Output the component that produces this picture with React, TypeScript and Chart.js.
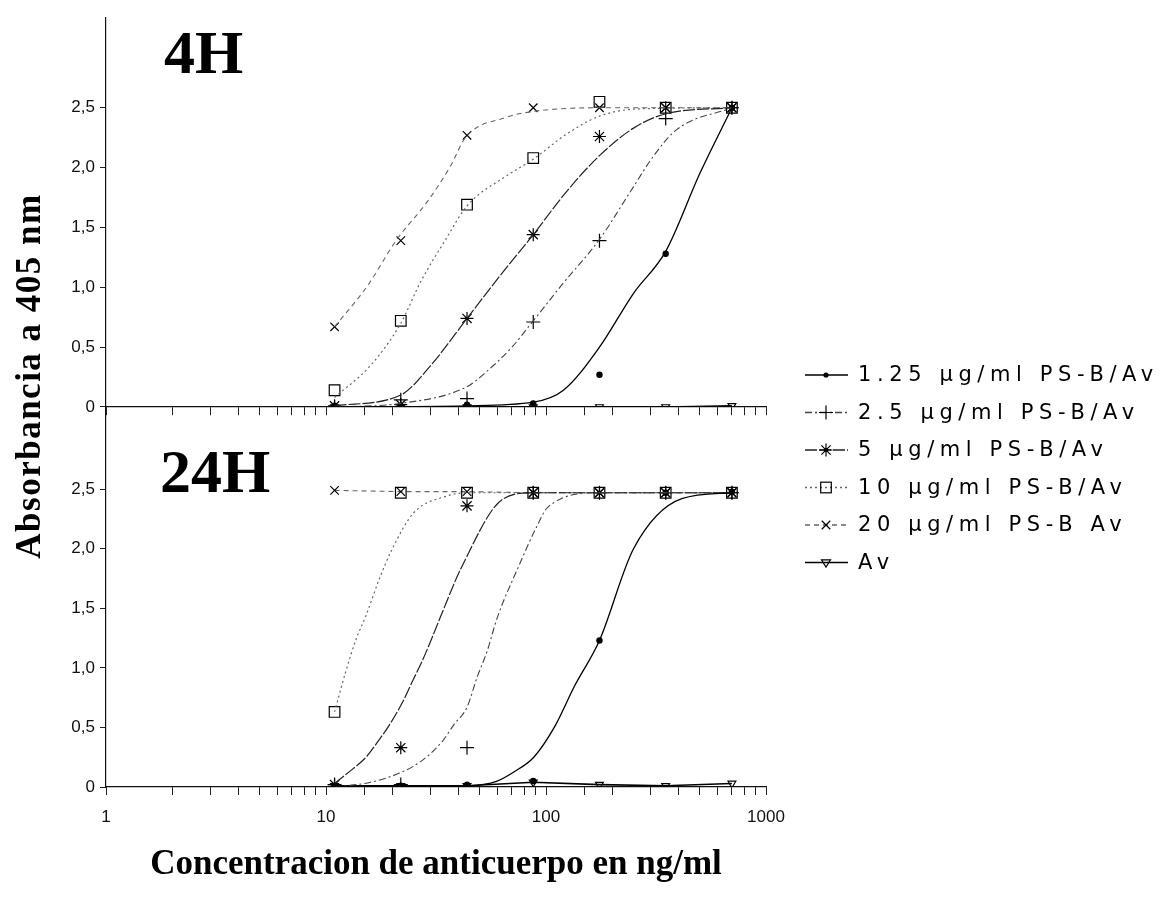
import React, { useEffect, useRef } from "react";
import { Chart, registerables } from "chart.js";

Chart.register(...registerables);

// ---------- DATA ----------
const concentrations = [10.9375, 21.875, 43.75, 87.5, 175, 350, 700];
const xTickLabels = ["1", "10", "100", "1000"];
const yTickValues = [0, 0.5, 1, 1.5, 2, 2.5];
const seriesLabels = [
  "1.25 µg/ml PS-B/Av",
  "2.5 µg/ml PS-B/Av",
  "5 µg/ml PS-B/Av",
  "10 µg/ml PS-B/Av",
  "20 µg/ml PS-B Av",
  "Av",
];
const panelLabels = ["4H", "24H"];
const xTitle = "Concentracion de anticuerpo en ng/ml";
const yTitle = "Absorbancia a 405 nm";

// 4H measured points
const h4_125 = [0.01, 0.01, 0.02, 0.03, 0.27, 1.28, 2.5];
const h4_25 = [0.0, 0.06, 0.07, 0.71, 1.39, 2.41, 2.5];
const h4_5 = [0.01, 0.02, 0.74, 1.44, 2.26, 2.5, 2.5];
const h4_10 = [0.14, 0.72, 1.69, 2.08, 2.55, 2.5, 2.5];
const h4_20 = [0.67, 1.39, 2.27, 2.5, 2.5, 2.5, 2.5];
const h4_av = [0.0, 0.0, 0.0, 0.0, 0.0, 0.0, 0.01];

// 24H measured points
const h24_125 = [0.01, 0.01, 0.02, 0.05, 1.23, 2.47, 2.48];
const h24_25 = [0.02, 0.02, 0.33, 2.47, 2.47, 2.47, 2.47];
const h24_5 = [0.02, 0.33, 2.36, 2.47, 2.47, 2.47, 2.47];
const h24_10 = [0.63, 2.47, 2.47, 2.47, 2.47, 2.47, 2.47];
const h24_20 = [2.49, 2.48, 2.48, 2.47, 2.47, 2.47, 2.47];
const h24_av = [0.01, 0.01, 0.01, 0.04, 0.02, 0.01, 0.03];

// fitted curves (4H)
const c4_125X = [10.9375, 43.75, 87.5, 120, 175, 250, 350, 500, 700];
const c4_125Y = [0.0, 0.01, 0.04, 0.14, 0.5, 0.95, 1.3, 1.95, 2.5];
const c4_25X = [10.9375, 21.875, 43.75, 54, 70, 87.5, 118, 175, 242, 309, 394, 700];
const c4_25Y = [0.0, 0.03, 0.17, 0.3, 0.5, 0.72, 1.02, 1.4, 1.8, 2.1, 2.32, 2.5];
const c4_5X = [10.9375, 21.875, 30, 43.75, 62, 87.5, 124, 175, 250, 350, 700];
const c4_5Y = [0.01, 0.1, 0.35, 0.74, 1.1, 1.44, 1.8, 2.1, 2.33, 2.45, 2.5];
const c4_10X = [10.9375, 16, 21.875, 27, 35, 43.75, 66, 87.5, 124, 175, 260, 700];
const c4_10Y = [0.08, 0.35, 0.7, 1.05, 1.4, 1.68, 1.93, 2.07, 2.28, 2.43, 2.49, 2.5];
const c4_20X = [10.9375, 15.4, 21, 29, 37, 43, 66, 88, 175, 700];
const c4_20Y = [0.67, 1.01, 1.4, 1.72, 2.02, 2.25, 2.42, 2.47, 2.5, 2.5];

// fitted curves (24H)
const c24_125X = [10.9375, 43.75, 60, 72, 88, 109, 135, 175, 250, 414, 700];
const c24_125Y = [0.0, 0.01, 0.05, 0.13, 0.25, 0.5, 0.85, 1.23, 2.0, 2.42, 2.47];
const c24_25X = [10.9375, 16, 22.4, 27.7, 34, 38, 43.75, 48.6, 54, 60, 75, 91, 102, 175, 700];
const c24_25Y = [0.0, 0.04, 0.13, 0.23, 0.39, 0.52, 0.67, 0.92, 1.14, 1.42, 1.85, 2.19, 2.35, 2.47, 2.47];
const c24_5X = [10.9375, 13.2, 15.2, 17.5, 19.4, 22.4, 24.9, 27.1, 30.3, 33, 41.7, 64, 87.5, 700];
const c24_5Y = [0.03, 0.15, 0.25, 0.4, 0.52, 0.72, 0.9, 1.04, 1.25, 1.42, 1.86, 2.42, 2.47, 2.47];
const c24_10X = [10.9375, 12.3, 13.7, 15.2, 17.5, 19.9, 25, 35, 43.75, 700];
const c24_10Y = [0.63, 0.97, 1.24, 1.44, 1.75, 1.99, 2.3, 2.44, 2.47, 2.47];

// ---------- STYLES ----------
const pointStyles = ["circle", "cross", "star", "rect", "crossRot", "triangle"];
const pointRadii = [2.6, 7, 6.5, 7.5, 6, 4.5];
const pointRotations = [0, 0, 0, 0, 0, 180];
const lineDashes: number[][] = [[], [7, 3, 2, 3], [12, 2], [2, 3], [5, 4], []];
const lineColors = ["#000", "#444", "#222", "#666", "#666", "#000"];
const lineWidths = [1.3, 1.1, 1.2, 1.2, 1.1, 1.6];

const FONT_SANS = "'Liberation Sans', Arial, sans-serif";
const FONT_SERIF = "'Liberation Serif', 'Times New Roman', serif";
const FONT_LEGEND = "'DejaVu Sans', sans-serif";

const toXY = (xs: number[], ys: number[]) => xs.map((x, i) => ({ x, y: ys[i] }));

function markerDataset(label: string, vals: number[], i: number, axis: string, withLine = false) {
  return {
    label,
    data: toXY(concentrations, vals),
    yAxisID: axis,
    xAxisID: "x",
    showLine: withLine,
    borderColor: lineColors[i],
    borderWidth: withLine ? lineWidths[i] : 1.2,
    borderDash: lineDashes[i],
    backgroundColor: i === 0 ? "#000" : "rgba(0,0,0,0)",
    pointStyle: pointStyles[i],
    pointRadius: pointRadii[i],
    pointRotation: pointRotations[i],
    pointBorderColor: "#000",
    pointBackgroundColor: i === 0 ? "#000" : "rgba(0,0,0,0)",
    pointBorderWidth: 1.2,
    tension: 0,
    fill: false,
  };
}

function curveDataset(xs: number[], ys: number[], i: number, axis: string) {
  return {
    label: "curve",
    data: toXY(xs, ys),
    yAxisID: axis,
    xAxisID: "x",
    showLine: true,
    borderColor: lineColors[i],
    borderWidth: lineWidths[i],
    borderDash: lineDashes[i],
    pointRadius: 0,
    cubicInterpolationMode: "monotone",
    fill: false,
  };
}

function drawMarker(ctx: CanvasRenderingContext2D, style: string, x: number, y: number, r: number) {
  ctx.save();
  ctx.setLineDash([]);
  ctx.strokeStyle = "#000";
  ctx.fillStyle = "#000";
  ctx.lineWidth = 1.2;
  ctx.beginPath();
  const d = r * Math.SQRT1_2;
  if (style === "circle") {
    ctx.arc(x, y, r, 0, Math.PI * 2);
    ctx.fill();
  } else if (style === "cross") {
    ctx.moveTo(x - r, y); ctx.lineTo(x + r, y);
    ctx.moveTo(x, y - r); ctx.lineTo(x, y + r);
    ctx.stroke();
  } else if (style === "star") {
    ctx.moveTo(x - r, y); ctx.lineTo(x + r, y);
    ctx.moveTo(x, y - r); ctx.lineTo(x, y + r);
    ctx.moveTo(x - d, y - d); ctx.lineTo(x + d, y + d);
    ctx.moveTo(x - d, y + d); ctx.lineTo(x + d, y - d);
    ctx.stroke();
    ctx.beginPath(); ctx.arc(x, y, 2, 0, Math.PI * 2); ctx.fill();
  } else if (style === "rect") {
    ctx.strokeRect(x - d, y - d, 2 * d, 2 * d);
  } else if (style === "crossRot") {
    ctx.moveTo(x - d, y - d); ctx.lineTo(x + d, y + d);
    ctx.moveTo(x - d, y + d); ctx.lineTo(x + d, y - d);
    ctx.stroke();
  } else if (style === "triangle") {
    ctx.moveTo(x - r, y - r * 0.6); ctx.lineTo(x + r, y - r * 0.6); ctx.lineTo(x, y + r);
    ctx.closePath();
    ctx.stroke();
  }
  ctx.restore();
}

const textPlugin = {
  id: "textPlugin",
  afterDraw(chart: any) {
    const ctx: CanvasRenderingContext2D = chart.ctx;
    ctx.save();
    ctx.fillStyle = "#000";
    // Y title
    ctx.save();
    ctx.translate(31, 376);
    ctx.rotate(-Math.PI / 2);
    ctx.font = `bold 35px ${FONT_SERIF}`;
    (ctx as any).letterSpacing = "1.5px";
    ctx.textAlign = "center";
    ctx.textBaseline = "middle";
    ctx.fillText(yTitle, 0, 0);
    ctx.restore();
    // panel labels
    ctx.font = `bold 62px ${FONT_SERIF}`;
    ctx.textAlign = "left";
    ctx.textBaseline = "alphabetic";
    ctx.fillText(panelLabels[0], 164, 73);
    ctx.fillText(panelLabels[1], 160, 492);
    // legend
    ctx.font = `21px ${FONT_LEGEND}`;
    (ctx as any).letterSpacing = "5.6px";
    ctx.textBaseline = "middle";
    seriesLabels.forEach((lab, i) => {
      const y = 375 + i * 37.5;
      ctx.save();
      ctx.strokeStyle = lineColors[i];
      ctx.lineWidth = 1.3;
      ctx.setLineDash(lineDashes[i]);
      ctx.beginPath();
      ctx.moveTo(805, y);
      ctx.lineTo(848, y);
      ctx.stroke();
      ctx.restore();
      drawMarker(ctx, pointStyles[i], 826, y, pointRadii[i]);
      ctx.fillText(lab, 858, y + 1);
    });
    (ctx as any).letterSpacing = "0px";
    ctx.restore();
  },
};

const yTickCallback = (v: any) => (v === 0 ? "0" : Number(v).toFixed(1).replace(".", ","));

function yAxis(max: number, weight: number) {
  return {
    type: "linear",
    position: "left",
    stack: "panels",
    stackWeight: weight,
    min: 0,
    max,
    afterBuildTicks: (scale: any) => {
      scale.ticks = yTickValues.map((v) => ({ value: v }));
    },
    afterFit: (scale: any) => {
      scale.width = 106;
    },
    ticks: {
      callback: yTickCallback,
      color: "#111",
      font: { family: FONT_SANS, size: 17 },
      padding: 5,
    },
    grid: { display: true, drawOnChartArea: false, drawTicks: true, tickLength: 6, color: "#222" },
    border: { display: true, color: "#111", width: 1.2 },
  };
}

export default function App() {
  const ref = useRef<HTMLCanvasElement | null>(null);
  useEffect(() => {
    if (!ref.current) return;
    const datasets: any[] = [
      // 4H
      curveDataset(c4_125X, c4_125Y, 0, "yTop"),
      curveDataset(c4_25X, c4_25Y, 1, "yTop"),
      curveDataset(c4_5X, c4_5Y, 2, "yTop"),
      curveDataset(c4_10X, c4_10Y, 3, "yTop"),
      curveDataset(c4_20X, c4_20Y, 4, "yTop"),
      markerDataset(seriesLabels[0], h4_125, 0, "yTop"),
      markerDataset(seriesLabels[1], h4_25, 1, "yTop"),
      markerDataset(seriesLabels[2], h4_5, 2, "yTop"),
      markerDataset(seriesLabels[3], h4_10, 3, "yTop"),
      markerDataset(seriesLabels[4], h4_20, 4, "yTop"),
      markerDataset(seriesLabels[5], h4_av, 5, "yTop", true),
      // 24H
      curveDataset(c24_125X, c24_125Y, 0, "yBot"),
      curveDataset(c24_25X, c24_25Y, 1, "yBot"),
      curveDataset(c24_5X, c24_5Y, 2, "yBot"),
      curveDataset(c24_10X, c24_10Y, 3, "yBot"),
      markerDataset(seriesLabels[0], h24_125, 0, "yBot"),
      markerDataset(seriesLabels[1], h24_25, 1, "yBot"),
      markerDataset(seriesLabels[2], h24_5, 2, "yBot"),
      markerDataset(seriesLabels[3], h24_10, 3, "yBot"),
      markerDataset(seriesLabels[4], h24_20, 4, "yBot", true),
      markerDataset(seriesLabels[5], h24_av, 5, "yBot", true),
    ];
    const chart = new Chart(ref.current, {
      type: "line",
      data: { datasets },
      plugins: [textPlugin],
      options: {
        responsive: false,
        animation: false,
        maintainAspectRatio: false,
        layout: { padding: { top: 18, right: 407, bottom: 0, left: 0 } },
        plugins: { legend: { display: false }, tooltip: { enabled: false }, title: { display: false } },
        scales: {
          x: {
            type: "logarithmic",
            position: "bottom",
            min: 1,
            max: 1000,
            afterFit: (scale: any) => {
              scale.height = 116;
            },
            ticks: {
              autoSkip: false,
              maxRotation: 0,
              minRotation: 0,
              padding: 12,
              color: "#111",
              font: { family: FONT_SANS, size: 17 },
              callback: (v: any) => {
                const s = String(v);
                return xTickLabels.includes(s) ? s : "";
              },
            },
            grid: { display: true, drawOnChartArea: false, drawTicks: true, tickLength: 8, color: "#222" },
            border: { display: true, color: "#111", width: 1.2 },
            title: {
              display: true,
              text: xTitle,
              color: "#000",
              font: { family: FONT_SERIF, size: 35, weight: "bold" },
              padding: { top: 0, bottom: 17 },
            },
          },
          yBot: yAxis(3.19, 380),
          yTop: yAxis(3.25, 389),
          x2: {
            type: "logarithmic",
            position: { yTop: 0 },
            min: 1,
            max: 1000,
            ticks: { display: false, autoSkip: false },
            grid: { display: true, drawOnChartArea: false, drawTicks: true, tickLength: 8, color: "#222" },
            border: { display: true, color: "#111", width: 1.2 },
          },
        },
      } as any,
    } as any);
    return () => chart.destroy();
  }, []);
  return (
    <div style={{ position: "fixed", left: 0, top: 0, width: 1173, height: 903, background: "#fff" }}>
      <canvas ref={ref} width={1173} height={903} style={{ width: 1173, height: 903, display: "block" }} />
    </div>
  );
}
